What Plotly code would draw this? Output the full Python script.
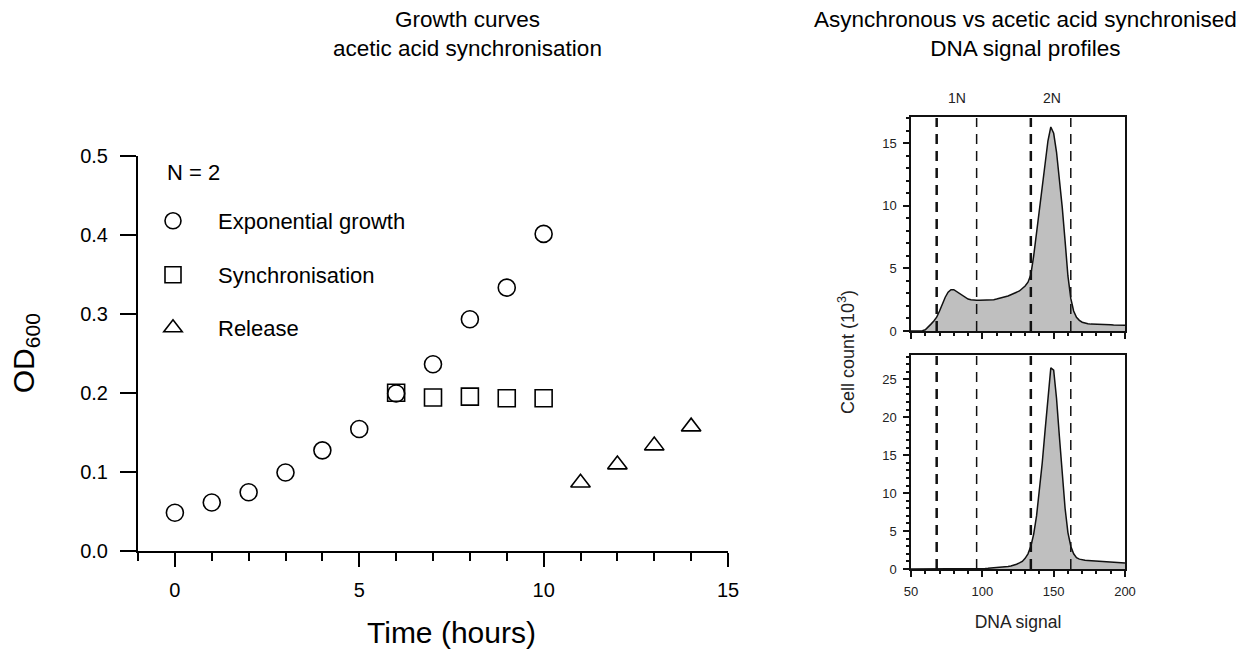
import plotly.graph_objects as go

# ---------------- data ----------------
time_exp = [0, 1, 2, 3, 4, 5, 6, 7, 8, 9, 10]
od_exp = [0.048, 0.061, 0.074, 0.099, 0.127, 0.154, 0.199, 0.236, 0.293, 0.333, 0.401]
time_sync = [6, 7, 8, 9, 10]
od_sync = [0.200, 0.194, 0.195, 0.193, 0.193]
time_rel = [11, 12, 13, 14]
od_rel = [0.086, 0.109, 0.133, 0.157]

dna_signal = list(range(50, 201, 2))
count_async = [0, 0, 0, 0, 0.02, 0.1, 0.3, 0.55, 0.8, 1.1,
               1.6, 2.2, 2.7, 3.1, 3.3, 3.3, 3.15, 2.95, 2.8, 2.65,
               2.55, 2.5, 2.45, 2.45, 2.45, 2.45, 2.45, 2.5, 2.5, 2.5,
               2.55, 2.6, 2.65, 2.7, 2.8, 2.9, 3.0, 3.1, 3.2, 3.4,
               3.6, 3.9, 4.5, 6.0, 7.8, 9.6, 11.5, 13.4, 15.2, 16.3,
               15.8, 14.3, 12.3, 9.9, 7.2, 4.4, 2.6, 1.6, 1.1, 0.85,
               0.7, 0.62, 0.58, 0.55, 0.55, 0.55, 0.52, 0.52, 0.5, 0.5,
               0.5, 0.48, 0.48, 0.47, 0.47, 0.46]
count_sync = [0, 0, 0, 0, 0, 0, 0, 0, 0, 0,
              0, 0, 0, 0, 0, 0, 0, 0, 0, 0,
              0, 0.02, 0.03, 0.04, 0.05, 0.06, 0.08, 0.1, 0.12, 0.14,
              0.16, 0.2, 0.24, 0.28, 0.33, 0.4, 0.5, 0.62, 0.8, 1.0,
              1.4, 2.0, 3.0, 4.6, 7.0, 10.2, 14.0, 18.3, 22.8, 26.5,
              26.2, 22.5, 17.5, 12.5, 8.0, 4.8, 3.0, 2.0, 1.5, 1.3,
              1.2, 1.15, 1.12, 1.1, 1.07, 1.05, 1.02, 1.0, 0.98, 0.96,
              0.94, 0.92, 0.9, 0.88, 0.85, 0.8]
gate_positions = [68, 96, 134, 162]
gate_widths = [2.5, 1.5, 2.5, 1.5]
gate_labels = ["1N", "2N"]
gate_label_x = [82, 149]

W, H = 1252, 650
FONT = "Liberation Sans, Arial, Helvetica, sans-serif"


def px_x(p):
    return p / W


def px_y(p):
    return 1 - p / H


fig = go.Figure()

mk = dict(size=17, color="black", line=dict(width=1.6, color="black"))
fig.add_trace(go.Scatter(x=time_exp, y=od_exp, mode="markers", name="Exponential growth",
                         marker=dict(symbol="circle-open", **mk), legend="legend",
                         xaxis="x", yaxis="y"))
fig.add_trace(go.Scatter(x=time_sync, y=od_sync, mode="markers", name="Synchronisation",
                         marker=dict(symbol="square-open", **mk), legend="legend2",
                         xaxis="x", yaxis="y"))
fig.add_trace(go.Scatter(x=time_rel, y=od_rel, mode="markers", name="Release",
                         marker=dict(symbol="triangle-up-open", **mk), legend="legend3",
                         xaxis="x", yaxis="y"))

for cnt, xa, ya in [(count_async, "x2", "y2"), (count_sync, "x3", "y3")]:
    fig.add_trace(go.Scatter(x=dna_signal, y=cnt, mode="lines", fill="tozeroy",
                             fillcolor="#bfbfbf", line=dict(color="#111", width=1.5),
                             showlegend=False, xaxis=xa, yaxis=ya))

for ya in ["y2", "y3"]:
    for g, w in zip(gate_positions, gate_widths):
        fig.add_shape(type="line", xref="x2" if ya == "y2" else "x3", yref=ya + " domain",
                      x0=g, x1=g, y0=0, y1=0.995,
                      line=dict(color="#111", width=w, dash="10px,7px"))

left_ax = dict(showline=True, linewidth=2, linecolor="black", ticks="outside",
               tickwidth=2, tickcolor="black", showgrid=False, zeroline=False,
               tickfont=dict(size=20, color="black", family=FONT))
fig.update_layout(
    xaxis=dict(domain=[px_x(138), px_x(728)], range=[-1, 15], anchor="y",
               tickvals=[0, 5, 10, 15], ticklen=14, ticklabelstandoff=6,
               minor=dict(dtick=1, tick0=0, ticklen=8, tickwidth=2, ticks="outside",
                          tickcolor="black", showgrid=False),
               **left_ax),
    yaxis=dict(domain=[px_y(550.7), px_y(155.7)], range=[0, 0.5], anchor="x",
               dtick=0.1, tickformat=".1f", ticklen=16, ticklabelstandoff=8,
               title=dict(text="OD<sub>600</sub>", font=dict(size=30, family=FONT, color="black"),
                          standoff=37),
               **left_ax),
)

right_ax = dict(showline=True, linewidth=1.5, linecolor="#111", mirror=True, ticks="outside",
                tickwidth=1.5, tickcolor="#111", showgrid=False, zeroline=False,
                tickfont=dict(size=13, color="#222", family=FONT))
xdom = [px_x(911), px_x(1125)]
fig.update_layout(
    xaxis2=dict(domain=xdom, range=[50, 200], anchor="y2", tickvals=[50, 100, 150, 200],
                showticklabels=False, ticklen=6,
                minor=dict(dtick=10, tick0=50, ticklen=3, tickwidth=1.5, ticks="outside",
                           tickcolor="#111", showgrid=False),
                **right_ax),
    yaxis2=dict(domain=[px_y(331), px_y(117)], range=[0, 17.1], anchor="x2",
                tickvals=[0, 5, 10, 15], ticklen=6, ticklabelstandoff=4,
                minor=dict(dtick=1, tick0=0, ticklen=3, tickwidth=1.5, ticks="outside",
                           tickcolor="#111", showgrid=False),
                **right_ax),
    xaxis3=dict(domain=xdom, range=[50, 200], anchor="y3", tickvals=[50, 100, 150, 200],
                ticklen=6, ticklabelstandoff=4,
                title=dict(text="DNA signal", font=dict(size=17.5, family=FONT, color="#222"),
                           standoff=17),
                minor=dict(dtick=10, tick0=50, ticklen=3, tickwidth=1.5, ticks="outside",
                           tickcolor="#111", showgrid=False),
                **right_ax),
    yaxis3=dict(domain=[px_y(569), px_y(355)], range=[0, 28.2], anchor="x3",
                tickvals=[0, 5, 10, 15, 20, 25], ticklen=6, ticklabelstandoff=4,
                minor=dict(dtick=1, tick0=0, ticklen=3, tickwidth=1.5, ticks="outside",
                           tickcolor="#111", showgrid=False),
                **right_ax),
)

leg = dict(xanchor="left", yanchor="middle", bgcolor="rgba(0,0,0,0)", borderwidth=0,
           font=dict(size=22, family=FONT, color="black"), itemwidth=80)
fig.update_layout(
    legend=dict(x=px_x(128), y=px_y(221), **leg),
    legend2=dict(x=px_x(128), y=px_y(275), **leg),
    legend3=dict(x=px_x(128), y=px_y(328), **leg),
)

ann = [
    dict(text="Growth curves<br>acetic acid synchronisation", x=px_x(467), y=px_y(34),
         font=dict(size=22.5)),
    dict(text="Asynchronous vs acetic acid synchronised<br>DNA signal profiles",
         x=px_x(1025), y=px_y(34), font=dict(size=22.5)),
    dict(text="N = 2", x=px_x(165), y=px_y(172), xanchor="left", font=dict(size=22)),
    dict(text="Time (hours)", xref="x", x=7.5, y=px_y(632), font=dict(size=30)),
    dict(text="Cell count (10<sup>3</sup>)", x=px_x(846), y=px_y(352), textangle=-90,
         font=dict(size=18, color="#222")),
]
for t, xv in zip(gate_labels, gate_label_x):
    ann.append(dict(text=t, xref="x2", x=xv, y=px_y(98), font=dict(size=14, color="#222")))
for a in ann:
    a.setdefault("xref", "paper")
    a.setdefault("yref", "paper")
    a.setdefault("xanchor", "center")
    a.setdefault("yanchor", "middle")
    a.setdefault("showarrow", False)
    a["font"] = dict(family=FONT, color=a["font"].get("color", "black"), size=a["font"]["size"])
fig.update_layout(annotations=ann)

fig.update_layout(width=W, height=H, margin=dict(l=0, r=0, t=0, b=0, autoexpand=False),
                  paper_bgcolor="white", plot_bgcolor="white",
                  font=dict(family=FONT, color="black"))

fig.write_html("out.html", config={"displayModeBar": False},
               post_script="document.body.style.margin='0';document.body.style.overflow='hidden';")
